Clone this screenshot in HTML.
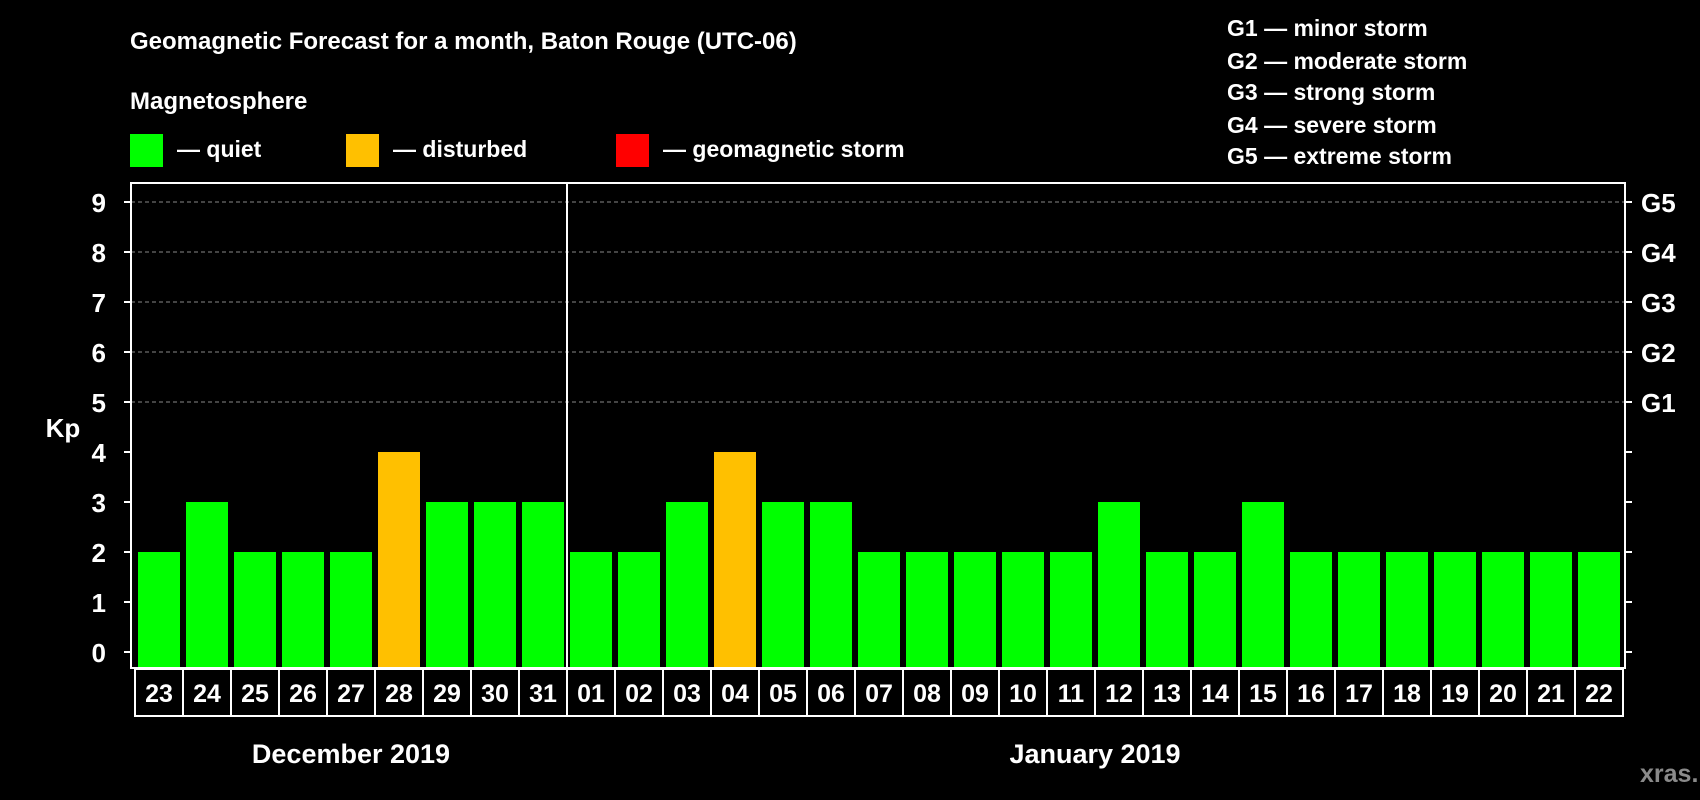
<!DOCTYPE html>
<html><head><meta charset="utf-8"><style>
html,body{margin:0;padding:0;background:#000;}
svg{display:block;font-family:"Liberation Sans",Arial,sans-serif;font-weight:bold;}
</style></head><body>
<svg id="c" width="1700" height="800" viewBox="0 0 1700 800">
<rect width="1700" height="800" fill="#000"/>
<text x="130" y="49" fill="#fff" font-size="24">Geomagnetic Forecast for a month, Baton Rouge (UTC-06)</text>
<text x="130" y="109" fill="#fff" font-size="24">Magnetosphere</text>
<rect x="130" y="134" width="33" height="33" fill="#00ff00"/>
<text x="177" y="157" fill="#fff" font-size="23">— quiet</text>
<rect x="346" y="134" width="33" height="33" fill="#ffc000"/>
<text x="393" y="157" fill="#fff" font-size="23">— disturbed</text>
<rect x="616" y="134" width="33" height="33" fill="#ff0000"/>
<text x="663" y="157" fill="#fff" font-size="23">— geomagnetic storm</text>
<g font-size="23" fill="#fff">
<text x="1227" y="36">G1 — minor storm</text>
<text x="1227" y="69">G2 — moderate storm</text>
<text x="1227" y="100">G3 — strong storm</text>
<text x="1227" y="133">G4 — severe storm</text>
<text x="1227" y="164">G5 — extreme storm</text>
</g>
<text x="63" y="437" fill="#fff" font-size="26" text-anchor="middle">Kp</text>
<text x="1640" y="782" fill="#8a8a8a" font-size="25">xras.ru</text>
<g id="plot"></g>
</svg>
<script>
const days = ["23","24","25","26","27","28","29","30","31","01","02","03","04","05","06","07","08","09","10","11","12","13","14","15","16","17","18","19","20","21","22"];
const kpValues = [2,3,2,2,2,4,3,3,3,2,2,3,4,3,3,2,2,2,2,2,3,2,2,3,2,2,2,2,2,2,2];
const yTicks = [0,1,2,3,4,5,6,7,8,9];
const gLabels = ["G1","G2","G3","G4","G5"];
const gLevels = [5,6,7,8,9];
const months = ["December 2019","January 2019"];
const monthStarts = [0,9];

const NS="http://www.w3.org/2000/svg";
const g=document.getElementById('plot');
const L=131,R=1625,T=183,B=668,x0=135,pitch=48,y0=652,unit=50;
const y=v=>y0-v*unit;
const xs=i=>x0+i*pitch;
function mk(t,a){const e=document.createElementNS(NS,t);for(const k in a)e.setAttribute(k,a[k]);g.appendChild(e);return e;}
yTicks.forEach(v=>{
  if(v>=5){const l=mk('line',{x1:L,x2:R,y1:y(v),y2:y(v),stroke:'#888','stroke-dasharray':'4,3','stroke-width':1});
  
  }
  const t1=mk('line',{x1:L-7,x2:L,y1:y(v),y2:y(v),stroke:'#fff','stroke-width':2});
  
  
  const t2=mk('line',{x1:R,x2:R+7,y1:y(v),y2:y(v),stroke:'#fff','stroke-width':2});
  
  
  const tx=mk('text',{x:106,y:y(v)+10,fill:'#fff','font-size':26,'text-anchor':'end'});tx.textContent=v;
  
  
});
gLabels.forEach((s,i)=>{const t=mk('text',{x:1641,y:y(gLevels[i])+10,fill:'#fff','font-size':26});t.textContent=s;
  
  });
kpValues.forEach((v,i)=>{
  const c=v>=5?'#ff0000':(v>=4?'#ffc000':'#00ff00');
  const r=mk('rect',{x:xs(i)+3,y:y(v),width:pitch-6,height:B-y(v)-1,fill:c});
  
  
  const b=mk('rect',{x:xs(i),y:669,width:pitch,height:47,fill:'none',stroke:'#fff','stroke-width':2});
  
  
  const t=mk('text',{x:xs(i)+pitch/2,y:702,fill:'#fff','font-size':25,'text-anchor':'middle'});t.textContent=days[i];
  
  
});
const fr=mk('rect',{x:L,y:T,width:R-L,height:B-T,fill:'none',stroke:'#fff','stroke-width':2});


monthStarts.forEach((s,i)=>{
  const e=i+1<monthStarts.length?monthStarts[i+1]:days.length;
  if(i>0){const d=mk('line',{x1:xs(s),x2:xs(s),y1:T,y2:B,stroke:'#fff','stroke-width':2});
    
    }
  const t=mk('text',{x:(xs(s)+xs(e))/2,y:763,fill:'#fff','font-size':27,'text-anchor':'middle'});t.textContent=months[i];
  
  
});
</script>
</body></html>
